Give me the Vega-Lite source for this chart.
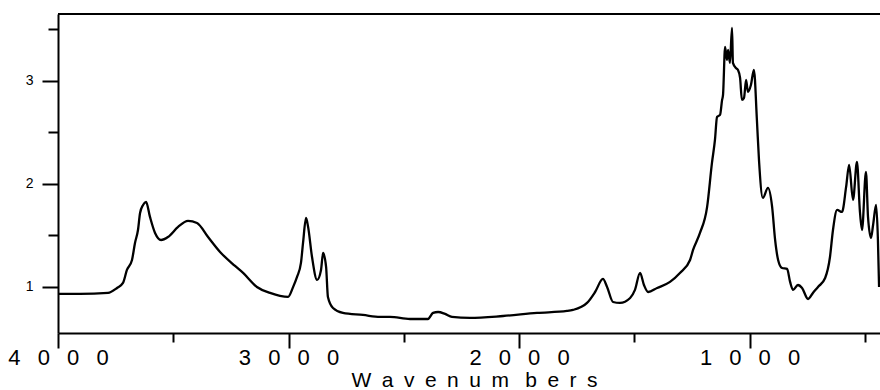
{
  "$schema": "https://vega.github.io/schema/vega-lite/v6.json",
  "width": 822,
  "height": 319,
  "autosize": {"type": "none"},
  "padding": {"left": 58, "top": 14, "right": 0, "bottom": 57},
  "background": "white",
  "config": {
    "view": {"stroke": null},
    "font": "Liberation Sans",
    "axis": {
      "domainColor": "black",
      "domainWidth": 2,
      "tickColor": "black",
      "tickWidth": 2,
      "labelColor": "black",
      "titleColor": "black",
      "grid": false
    }
  },
  "data": {
    "values": [
      {"w": 4000, "a": 0.932}, {"w": 3905, "a": 0.932}, {"w": 3783, "a": 0.942}, {"w": 3744, "a": 0.99},
      {"w": 3718, "a": 1.039}, {"w": 3701, "a": 1.165}, {"w": 3679, "a": 1.262}, {"w": 3666, "a": 1.427},
      {"w": 3653, "a": 1.553}, {"w": 3644, "a": 1.718}, {"w": 3631, "a": 1.796}, {"w": 3618, "a": 1.825},
      {"w": 3601, "a": 1.68}, {"w": 3579, "a": 1.524}, {"w": 3553, "a": 1.456}, {"w": 3523, "a": 1.485},
      {"w": 3479, "a": 1.583}, {"w": 3436, "a": 1.641}, {"w": 3397, "a": 1.621}, {"w": 3349, "a": 1.485},
      {"w": 3297, "a": 1.34}, {"w": 3232, "a": 1.204}, {"w": 3197, "a": 1.136}, {"w": 3137, "a": 1.0},
      {"w": 3080, "a": 0.942}, {"w": 3037, "a": 0.913}, {"w": 3002, "a": 0.903}, {"w": 2980, "a": 1.0},
      {"w": 2963, "a": 1.097}, {"w": 2946, "a": 1.233}, {"w": 2937, "a": 1.427}, {"w": 2924, "a": 1.67},
      {"w": 2915, "a": 1.583}, {"w": 2898, "a": 1.291}, {"w": 2876, "a": 1.068}, {"w": 2859, "a": 1.165},
      {"w": 2850, "a": 1.33}, {"w": 2837, "a": 1.194}, {"w": 2829, "a": 0.903}, {"w": 2807, "a": 0.796},
      {"w": 2764, "a": 0.748}, {"w": 2677, "a": 0.728}, {"w": 2603, "a": 0.709}, {"w": 2560, "a": 0.709},
      {"w": 2473, "a": 0.689}, {"w": 2395, "a": 0.689}, {"w": 2373, "a": 0.748}, {"w": 2351, "a": 0.757},
      {"w": 2321, "a": 0.738}, {"w": 2291, "a": 0.709}, {"w": 2213, "a": 0.699}, {"w": 2069, "a": 0.718},
      {"w": 1922, "a": 0.748}, {"w": 1792, "a": 0.767}, {"w": 1766, "a": 0.777}, {"w": 1705, "a": 0.845},
      {"w": 1670, "a": 0.951}, {"w": 1636, "a": 1.078}, {"w": 1618, "a": 1.0}, {"w": 1592, "a": 0.854},
      {"w": 1562, "a": 0.845}, {"w": 1518, "a": 0.893}, {"w": 1497, "a": 0.971}, {"w": 1475, "a": 1.136},
      {"w": 1458, "a": 1.019}, {"w": 1440, "a": 0.951}, {"w": 1401, "a": 0.99}, {"w": 1345, "a": 1.049},
      {"w": 1302, "a": 1.136}, {"w": 1258, "a": 1.262}, {"w": 1245, "a": 1.359}, {"w": 1215, "a": 1.524},
      {"w": 1184, "a": 1.777}, {"w": 1163, "a": 2.204}, {"w": 1150, "a": 2.427}, {"w": 1141, "a": 2.65},
      {"w": 1128, "a": 2.67}, {"w": 1119, "a": 2.816}, {"w": 1115, "a": 2.864}, {"w": 1106, "a": 3.33},
      {"w": 1098, "a": 3.204}, {"w": 1093, "a": 3.301}, {"w": 1085, "a": 3.175}, {"w": 1076, "a": 3.515},
      {"w": 1072, "a": 3.175}, {"w": 1059, "a": 3.126}, {"w": 1050, "a": 3.107}, {"w": 1041, "a": 3.029},
      {"w": 1033, "a": 2.816}, {"w": 1024, "a": 2.835}, {"w": 1015, "a": 3.01}, {"w": 1007, "a": 2.893},
      {"w": 994, "a": 2.961}, {"w": 981, "a": 3.107}, {"w": 968, "a": 2.621}, {"w": 959, "a": 2.233},
      {"w": 942, "a": 1.864}, {"w": 920, "a": 1.961}, {"w": 902, "a": 1.777}, {"w": 889, "a": 1.456},
      {"w": 876, "a": 1.262}, {"w": 859, "a": 1.184}, {"w": 837, "a": 1.175}, {"w": 824, "a": 1.049},
      {"w": 811, "a": 0.971}, {"w": 790, "a": 1.019}, {"w": 772, "a": 0.99}, {"w": 746, "a": 0.883},
      {"w": 725, "a": 0.942}, {"w": 703, "a": 1.0}, {"w": 672, "a": 1.087}, {"w": 651, "a": 1.291},
      {"w": 638, "a": 1.553}, {"w": 620, "a": 1.748}, {"w": 599, "a": 1.728}, {"w": 581, "a": 1.971},
      {"w": 568, "a": 2.184}, {"w": 551, "a": 1.845}, {"w": 534, "a": 2.214}, {"w": 521, "a": 1.728},
      {"w": 512, "a": 1.553}, {"w": 495, "a": 2.117}, {"w": 486, "a": 1.68}, {"w": 473, "a": 1.476},
      {"w": 464, "a": 1.602}, {"w": 451, "a": 1.796}, {"w": 443, "a": 1.456}, {"w": 438, "a": 1.0}
    ]
  },
  "layer": [
    {
      "mark": {"type": "line", "color": "black", "strokeWidth": 2.3, "interpolate": "monotone"},
      "encoding": {
        "x": {
          "field": "w",
          "type": "quantitative",
          "scale": {"domain": [434, 4000], "reverse": true, "nice": false, "zero": false},
          "axis": {
            "orient": "bottom",
            "values": [500, 1000, 1500, 2000, 2500, 3000, 3500, 4000],
            "tickSize": {"condition": {"test": "datum.value % 1000 === 0", "value": 15}, "value": 9},
            "labelExpr": "datum.value === 4000 ? '4\u2002 0\u2002 0\u2002 0' : datum.value === 3000 ? '3\u2002 0\u2002 0\u2002 0' : datum.value === 2000 ? '2\u2002 0\u2002 0\u2002 0' : datum.value === 1000 ? '1\u2002 0\u2002 0\u2002 0' : ''",
            "labelFontSize": 22,
            "labelPadding": -1,
            "labelFlush": false,
            "labelOverlap": false,
            "title": "W\u2002a\u2002v\u2002e\u2002n\u2002u\u2002m\u2002 b\u2002e\u2002r\u2002s",
            "titleFontSize": 21,
            "titleFontWeight": "normal",
            "titleBaseline": "alphabetic",
            "titleAnchor": "middle",
            "titleX": 416,
            "titleY": 53
          }
        },
        "y": {
          "field": "a",
          "type": "quantitative",
          "scale": {"domain": [0.553, 3.65], "nice": false, "zero": false},
          "axis": {
            "values": [1, 1.5, 2, 2.5, 3, 3.5],
            "tickSize": {"condition": {"test": "datum.value % 1 === 0", "value": 16}, "value": 10},
            "labelExpr": "datum.value % 1 === 0 ? format(datum.value, 'd') : ''",
            "labelFontSize": 14,
            "labelPadding": 9,
            "title": null
          }
        }
      }
    },
    {
      "mark": {"type": "rule", "color": "black", "strokeWidth": 2},
      "encoding": {"y": {"datum": 3.65}}
    }
  ]
}
